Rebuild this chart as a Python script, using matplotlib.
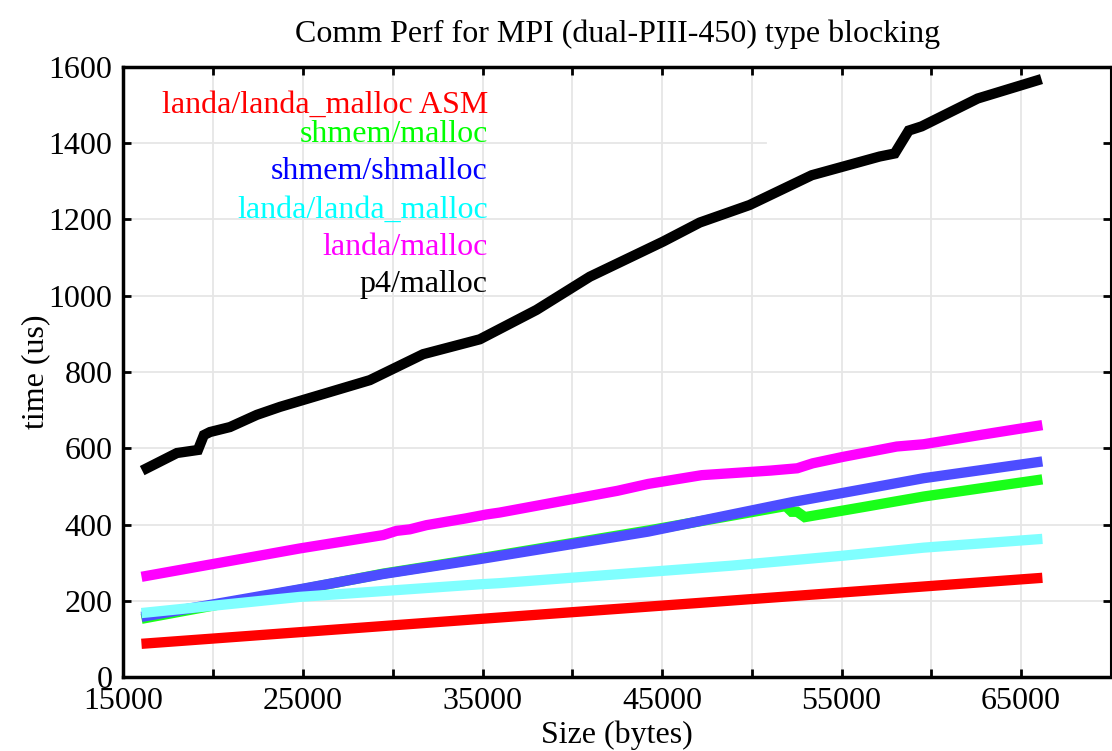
import matplotlib
matplotlib.use("Agg")
import matplotlib.pyplot as plt

# ---- data ----
x_black = [16300, 17980, 19150, 19480, 19820, 20930, 22430, 23725, 28725, 31693,
           34850, 38006, 40975, 45055, 47100, 49880, 53340, 57120, 57960, 58740,
           59460, 62580, 65860]
y_black = [548, 588, 596, 635, 643, 656, 688, 709, 779, 847,
           886, 963, 1050, 1142, 1192, 1238, 1316, 1365, 1373, 1433,
           1444, 1517, 1564]

x_magenta = [16290, 24830, 29470, 30210, 30950, 31880, 34110, 35220, 35960, 42520,
             44225, 47210, 51050, 52530, 53390, 55090, 58070, 59570, 62550, 65900]
y_magenta = [266, 338, 373, 384, 388, 399, 417, 427, 432, 489,
             507, 530, 542, 548, 561, 578, 605, 611, 634, 659]

x_blue = [16290, 24830, 29470, 34850, 44225, 52320, 59570, 65900]
y_blue = [161, 231, 271, 310, 382, 460, 522, 564]

x_green = [16290, 24830, 29470, 34850, 44225, 51890, 52220, 52530, 52950, 56160, 59570, 65900]
y_green = [156, 230, 272, 312, 385, 449, 434, 434, 420, 446, 474, 517]

x_cyan = [16290, 24830, 34850, 35960, 48910, 55090, 59570, 65900]
y_cyan = [170, 211, 244, 247, 293, 319, 340, 362]

x_red = [16290, 35960, 65900]
y_red = [89, 157, 260]

labels = ["landa/landa_malloc ASM", "shmem/malloc", "shmem/shmalloc",
          "landa/landa_malloc", "landa/malloc", "p4/malloc"]
label_y = [1500, 1422, 1325, 1225, 1126, 1029]
label_colors = ["#ff0000", "#00ff00", "#0000ff", "#00ffff", "#ff00ff", "#000000"]

xticks = list(range(15000, 70001, 5000))
xticklabels = [str(v) if (v - 15000) % 10000 == 0 else "" for v in xticks]
yticks = list(range(0, 1601, 200))

# ---- figure ----
plt.rcParams['font.family'] = ['Liberation Serif', 'DejaVu Serif']
fig = plt.figure(figsize=(11.12, 7.51), dpi=100)
ax = fig.add_axes([0.111, 0.098, 0.888, 0.813])

lw = 7.4
ax.plot(x_red, y_red, color="#ff0000", lw=lw, solid_joinstyle="miter", zorder=3)
ax.plot(x_green, y_green, color="#19ff19", lw=lw, solid_joinstyle="miter", zorder=3)
ax.plot(x_blue, y_blue, color="#4d4dff", lw=lw, solid_joinstyle="miter", zorder=3)
ax.plot(x_cyan, y_cyan, color="#80ffff", lw=lw, solid_joinstyle="miter", zorder=3)
ax.plot(x_magenta, y_magenta, color="#ff00ff", lw=lw, solid_joinstyle="miter", zorder=3)
ax.plot(x_black, y_black, color="#000000", lw=lw, solid_joinstyle="miter", zorder=3)

ax.set_xlim(15000, 70000)
ax.set_ylim(0, 1600)
ax.set_xticks(xticks)
ax.set_xticklabels(xticklabels)
ax.set_yticks(yticks)

# grid
gc = "#e6e6e6"
for v in xticks[1:-1]:
    ax.axvline(v, color=gc, lw=1.3, zorder=1)
for v in yticks[1:-1]:
    if v == 1400:
        ax.plot([15000, 50800], [v, v], color=gc, lw=1.3, zorder=1)
    else:
        ax.axhline(v, color=gc, lw=1.3, zorder=1)

ax.tick_params(direction="in", length=6, width=2, top=True, right=True,
               labelsize=23)
ax.tick_params(axis="y", pad=8)
ax.tick_params(axis="x", pad=7)
for s in ["left", "bottom", "top"]:
    ax.spines[s].set_linewidth(2.5)
ax.spines["right"].set_linewidth(1.5)

for lab, yy, c in zip(labels, label_y, label_colors):
    ax.text(35300, yy, lab, color=c, fontsize=23, ha="right", va="center", zorder=4)

ax.set_title("Comm Perf for MPI (dual-PIII-450) type blocking", fontsize=23, pad=18)
ax.set_xlabel("Size (bytes)", fontsize=23, labelpad=3)
ax.set_ylabel("time (us)", fontsize=23, labelpad=-1)

fig.savefig("out.png", dpi=100)
